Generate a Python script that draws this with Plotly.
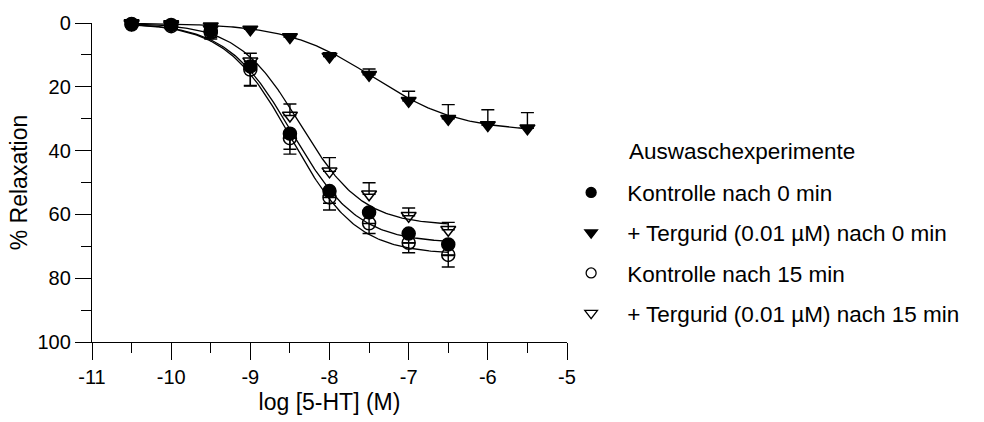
import numpy as np
import plotly.graph_objects as go

# ---------------- data ----------------
log_conc = [-10.5, -10.0, -9.5, -9.0, -8.5, -8.0, -7.5, -7.0, -6.5]
log_conc_terg0 = [-10.5, -10.0, -9.5, -9.0, -8.5, -8.0, -7.5, -7.0, -6.5, -6.0, -5.5]

kontrolle_0 = [0.3, 0.6, 2.5, 13.6, 34.7, 52.7, 59.4, 66.0, 69.4]
kontrolle_0_err = [0.5, 0.8, 2.0, 6.0, 4.9, 3.8, 3.5, 3.0, 3.5]

terg_0 = [0.0, 0.3, 1.0, 2.0, 4.4, 10.5, 16.2, 24.4, 30.0, 32.0, 33.0]
terg_0_err = [0.3, 0.5, 0.8, 0.8, 1.0, 1.2, 1.8, 3.0, 4.4, 4.8, 4.9]

kontrolle_15 = [0.5, 1.0, 3.0, 14.6, 36.1, 54.7, 62.8, 68.9, 72.7]
kontrolle_15_err = [0.5, 0.8, 2.0, 5.2, 5.0, 3.9, 3.2, 3.1, 3.8]

terg_15 = [0.3, 0.8, 2.0, 12.0, 29.0, 46.5, 53.7, 60.4, 64.8]
terg_15_err = [0.4, 0.6, 1.0, 2.5, 3.6, 4.3, 3.6, 2.4, 2.3]

# fitted sigmoid parameters: (bottom, logEC50, hill)
fit_kontrolle_0 = (69.0, -8.47, 1.05)
fit_terg_0 = (34.0, -7.45, 0.8)
fit_kontrolle_15 = (72.5, -8.48, 1.05)
fit_terg_15 = (63.5, -8.37, 1.1)

x_ticks = [-11, -10, -9, -8, -7, -6, -5]
y_ticks = [0, 20, 40, 60, 80, 100]

legend_names = [
    "Kontrolle nach 0 min",
    "+ Tergurid (0.01 µM) nach 0 min",
    "Kontrolle nach 15 min",
    "+ Tergurid (0.01 µM) nach 15 min",
]
legend_title = "Auswaschexperimente"

FONT = "Liberation Sans, Arial, sans-serif"


def curve(params, x0, x1):
    bottom, ec50, hill = params
    xs = np.linspace(x0, x1, 200)
    ys = bottom / (1.0 + 10 ** (hill * (ec50 - xs)))
    return xs, ys


fig = go.Figure()

# fitted curves
for params, xs_data in [
    (fit_kontrolle_0, log_conc),
    (fit_terg_0, log_conc_terg0),
    (fit_kontrolle_15, log_conc),
    (fit_terg_15, log_conc),
]:
    cx, cy = curve(params, xs_data[0], xs_data[-1])
    fig.add_trace(go.Scatter(x=cx, y=cy, mode="lines", showlegend=False,
                             line=dict(color="black", width=1.3), hoverinfo="skip"))

series = [
    (log_conc, kontrolle_0, kontrolle_0_err, "circle", "down", 10),
    (log_conc_terg0, terg_0, terg_0_err, "triangle-down", "up", 11),
    (log_conc, kontrolle_15, kontrolle_15_err, "circle-open", "down", 10),
    (log_conc, terg_15, terg_15_err, "triangle-down-open", "up", 11),
]

for i, (xs, ys, err, sym, direction, lsize) in enumerate(series):
    zeros = [0] * len(err)
    if direction == "down":
        ey = dict(type="data", symmetric=False, array=err, arrayminus=zeros,
                  color="black", thickness=1.4, width=6.5)
    else:
        ey = dict(type="data", symmetric=False, array=zeros, arrayminus=err,
                  color="black", thickness=1.4, width=6.5)
    fig.add_trace(go.Scatter(
        x=xs, y=ys, mode="markers", name=legend_names[i], showlegend=False,
        marker=dict(symbol=sym, size=13, color="black",
                    line=dict(color="black", width=1.5)),
        error_y=ey, cliponaxis=False,
    ))
    # legend entry (smaller symbol, as in the original key)
    fig.add_trace(go.Scatter(
        x=[None], y=[None], mode="markers", name=legend_names[i],
        legendgroup=f"g{i}", showlegend=True,
        marker=dict(symbol=sym, size=lsize, color="black",
                    line=dict(color="black", width=1.3)),
    ))

fig.update_layout(
    width=984, height=422,
    margin=dict(l=92, r=417, t=19, b=78),
    paper_bgcolor="white", plot_bgcolor="white",
    font=dict(family=FONT, size=20, color="black"),
    showlegend=True,
    legend=dict(x=0.975, y=0.535, xanchor="left", yanchor="top",
                font=dict(family=FONT, size=22.5, color="black"),
                tracegroupgap=8, itemwidth=62, bgcolor="rgba(0,0,0,0)"),
    xaxis=dict(range=[-11, -5], tickvals=x_ticks, ticktext=[str(v) for v in x_ticks],
               showgrid=False, zeroline=False, showline=True, linecolor="black",
               linewidth=1.3, ticks="outside", ticklen=17, tickwidth=1.3,
               tickcolor="black",
               minor=dict(dtick=0.5, ticks="outside", ticklen=10, tickwidth=1.3,
                          tickcolor="black", showgrid=False),
               title=dict(text="log [5-HT] (M)", standoff=6,
                          font=dict(family=FONT, size=23)),
               tickfont=dict(family=FONT, size=20)),
    yaxis=dict(range=[100, 0], tickvals=y_ticks, ticktext=[str(v) for v in y_ticks],
               showgrid=False, zeroline=False, showline=True, linecolor="black",
               linewidth=1.3, ticks="outside", ticklen=16, tickwidth=1.3,
               tickcolor="black",
               minor=dict(dtick=10, ticks="outside", ticklen=10, tickwidth=1.3,
                          tickcolor="black", showgrid=False),
               title=dict(text="% Relaxation", standoff=3,
                          font=dict(family=FONT, size=23)),
               tickfont=dict(family=FONT, size=20)),
    annotations=[dict(text=legend_title, xref="paper", yref="paper",
                      x=(627 - 92) / 475, y=(344 - 150) / 325, xanchor="left", yanchor="middle",
                      showarrow=False, font=dict(family=FONT, size=22.5, color="black"))],
)

fig.write_html("out.html")
